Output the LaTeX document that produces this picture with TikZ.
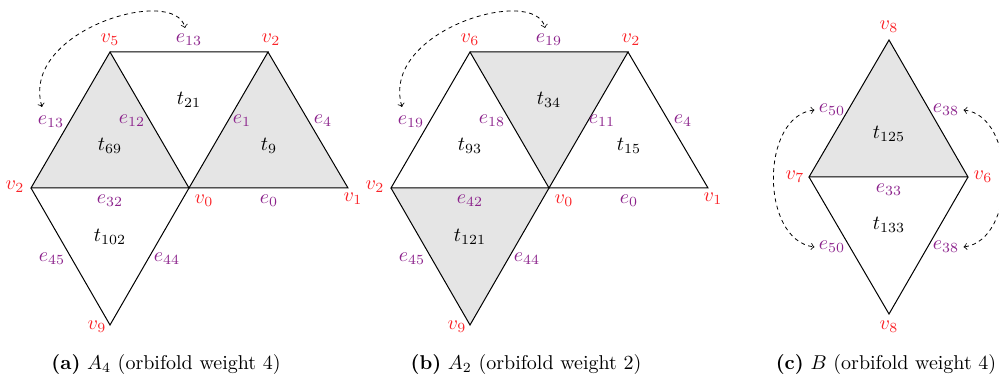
\documentclass[tikz,border=0pt]{standalone}
\usepackage{xcolor}
\definecolor{vred}{RGB}{250,35,40}
\definecolor{epur}{RGB}{140,35,140}
\tikzset{
  lab/.style={inner sep=0pt, font=\fontsize{10}{12}\selectfont},
  vl/.style={lab, text=vred},
  el/.style={lab, text=epur},
  tl/.style={lab, text=black},
  tri/.style={draw=black, line width=0.5pt, line join=miter},
  shade/.style={fill=gray!20},
  dasharrow/.style={dashed, dash pattern=on 2pt off 1.8pt, <->, line width=0.4pt},
  captext/.style={inner sep=0pt, font=\fontsize{10}{12}\selectfont}
}
\begin{document}
\begin{tikzpicture}[x=0.5pt,y=-0.5pt]
\useasboundingbox (0,0) rectangle (999,379);
% ---------- panel (a) ----------
\coordinate (a5) at (110,52);
\coordinate (a2t) at (268,52);
\coordinate (a2l) at (31,188);
\coordinate (a0) at (189,188);
\coordinate (a1) at (348,188);
\coordinate (a9) at (110,325);
\fill[shade] (a2l)--(a5)--(a0)--cycle;
\fill[shade] (a0)--(a2t)--(a1)--cycle;
\draw[tri] (a2l)--(a5)--(a0)--cycle;
\draw[tri] (a5)--(a2t)--(a0);
\draw[tri] (a2t)--(a1)--(a0);
\draw[tri] (a2l)--(a9)--(a0);
\node[vl] (av5) at (110,40) {$v_5$};
\node[el] (ae13t) at (189,40) {$e_{13}$};
\node[vl] (av2t) at (271,40) {$v_2$};
\node[el] (ae13l) at (51,122) {$e_{13}$};
\node[el] (ae12) at (132,121) {$e_{12}$};
\node[tl] (at21) at (189,100) {$t_{21}$};
\node[el] (ae1) at (242,121) {$e_{1}$};
\node[el] (ae4) at (323,121) {$e_{4}$};
\node[tl] (at69) at (110,146) {$t_{69}$};
\node[tl] (at9) at (269,146) {$t_{9}$};
\node[vl] (av2l) at (15,187) {$v_2$};
\node[el] (ae32) at (110,201) {$e_{32}$};
\node[vl] (av0) at (204,201) {$v_0$};
\node[el] (ae0) at (269,201) {$e_{0}$};
\node[vl] (av1) at (353,199) {$v_1$};
\node[tl] (at102) at (110,237) {$t_{102}$};
\node[el] (ae45) at (52,259) {$e_{45}$};
\node[el] (ae44) at (167,259) {$e_{44}$};
\node[vl] (av9) at (97,327) {$v_9$};
\coordinate (aArrA) at (42,107);
\coordinate (aArrB) at (185,28);
\draw[dasharrow] (aArrA) .. controls (20,30) and (175,-15) .. (aArrB);
\node[captext] (capa) at (166,364) {\textbf{(a)} $A_4$ (orbifold weight 4)};
% ---------- panel (b) ----------
\coordinate (b6) at (470,52);
\coordinate (b2t) at (628,52);
\coordinate (b2l) at (391,188);
\coordinate (b0) at (549,188);
\coordinate (b1) at (708,188);
\coordinate (b9) at (470,325);
\fill[shade] (b6)--(b2t)--(b0)--cycle;
\fill[shade] (b2l)--(b0)--(b9)--cycle;
\draw[tri] (b2l)--(b6)--(b0)--cycle;
\draw[tri] (b6)--(b2t)--(b0);
\draw[tri] (b2t)--(b1)--(b0);
\draw[tri] (b2l)--(b9)--(b0);
\node[vl] (bv6) at (470,40) {$v_6$};
\node[el] (be19t) at (549,40) {$e_{19}$};
\node[vl] (bv2t) at (631,40) {$v_2$};
\node[el] (be19l) at (411,122) {$e_{19}$};
\node[el] (be18) at (492,121) {$e_{18}$};
\node[tl] (bt34) at (549,100) {$t_{34}$};
\node[el] (be11) at (602,121) {$e_{11}$};
\node[el] (be4) at (683,121) {$e_{4}$};
\node[tl] (bt93) at (470,146) {$t_{93}$};
\node[tl] (bt15) at (629,146) {$t_{15}$};
\node[vl] (bv2l) at (375,187) {$v_2$};
\node[el] (be42) at (470,201) {$e_{42}$};
\node[vl] (bv0) at (564,201) {$v_0$};
\node[el] (be0) at (629,201) {$e_{0}$};
\node[vl] (bv1) at (713,199) {$v_1$};
\node[tl] (bt121) at (470,237) {$t_{121}$};
\node[el] (be45) at (412,259) {$e_{45}$};
\node[el] (be44) at (527,259) {$e_{44}$};
\node[vl] (bv9) at (457,327) {$v_9$};
\coordinate (bArrA) at (402,107);
\coordinate (bArrB) at (545,28);
\draw[dasharrow] (bArrA) .. controls (380,30) and (535,-15) .. (bArrB);
\node[captext] (capb) at (526,364) {\textbf{(b)} $A_2$ (orbifold weight 2)};
% ---------- panel (c) ----------
\coordinate (c8t) at (889,40);
\coordinate (c7) at (809,177);
\coordinate (c6) at (968,177);
\coordinate (c8b) at (889,314);
\fill[shade] (c8t)--(c6)--(c7)--cycle;
\draw[tri] (c8t)--(c6)--(c7)--cycle;
\draw[tri] (c7)--(c8b)--(c6);
\node[vl] (cv8t) at (889,27) {$v_8$};
\node[el] (ce50t) at (832,110) {$e_{50}$};
\node[el] (ce38t) at (946,110) {$e_{38}$};
\node[tl] (ct125) at (889,134) {$t_{125}$};
\node[vl] (cv7) at (795,177) {$v_7$};
\node[vl] (cv6) at (983,177) {$v_6$};
\node[el] (ce33) at (889,190) {$e_{33}$};
\node[tl] (ct133) at (889,225) {$t_{133}$};
\node[el] (ce50b) at (832,247) {$e_{50}$};
\node[el] (ce38b) at (946,247) {$e_{38}$};
\node[vl] (cv8b) at (889,327) {$v_8$};
\draw[dasharrow] ([xshift=-2pt]ce50t.west) .. controls (760,116) and (760,240) .. ([xshift=-2pt]ce50b.west);
\draw[dasharrow] ([xshift=2pt]ce38t.east) .. controls (1017,116) and (1017,240) .. ([xshift=2pt]ce38b.east);
\node[captext] (capc) at (886,364) {\textbf{(c)} $B$ (orbifold weight 4)};
\end{tikzpicture}
\end{document}
